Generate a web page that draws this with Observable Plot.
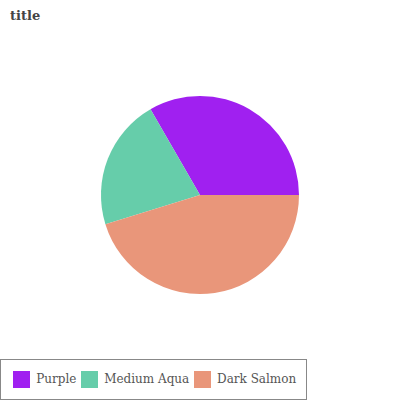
<!DOCTYPE html>
<html>
<head>
<meta charset="utf-8">
<script src="https://cdn.jsdelivr.net/npm/d3@7"></script>
<script src="https://cdn.jsdelivr.net/npm/@observablehq/plot@0.6"></script>
<style>
  html, body { margin: 0; padding: 0; background: #fff; width: 400px; height: 400px; overflow: hidden; }
  #wrap { position: relative; width: 400px; height: 400px; }
  #title { position: absolute; left: 10px; top: 6px; font-family: 'DejaVu Serif'; font-weight: bold; font-size: 13px; color: #444; line-height: 20px; }
  #chart { position: absolute; left: 0; top: 30px; }
  #legend { position: absolute; left: 0; top: 359px; width: 305px; height: 39px; border: 1px solid #888;
            font-family: 'DejaVu Serif'; font-size: 12px; color: #555; }
  .sw { position: absolute; top: 11px; width: 17px; height: 17px; }
  .lt { position: absolute; top: 11px; line-height: 17px; white-space: nowrap; }
</style>
</head>
<body>
<div id="wrap">
  <div id="title">title</div>
  <div id="chart"></div>
  <div id="legend"></div>
</div>
<script>
const categories = ["Purple", "Medium Aqua", "Dark Salmon"];
const values = [14, 9, 19];
const colors = ["#A020F0", "#66CDAA", "#E9967A"];

const data = categories.map((name, i) => ({name, value: values[i]}));

const pie = d3.pie().sort(null).value(d => d.value)
  .startAngle(Math.PI / 2).endAngle(Math.PI / 2 - 2 * Math.PI);

function pieMark(index, scales, vals, dims) {
  const cx = 200, cy = 165, r = 99;
  const arcs = pie(data);
  const arc = d3.arc().innerRadius(0).outerRadius(r);
  const g = d3.create("svg:g").attr("transform", `translate(${cx},${cy})`);
  g.selectAll("path").data(arcs).join("path")
    .attr("d", arc)
    .attr("fill", (d, i) => (vals && vals.fill) ? vals.fill[i] : scales.color(d.data.name));
  return g.node();
}

const plot = Plot.plot({
  width: 400,
  height: 325,
  margin: 0,
  x: {axis: null},
  y: {axis: null},
  color: {domain: categories, range: colors},
  marks: [
    Plot.dot(data, {x: () => 0, y: () => 0, fill: "name", render: pieMark})
  ]
});
document.getElementById("chart").appendChild(plot);

// legend: swatch then label, laid out left to right
const legend = document.getElementById("legend");
let x = 12;
categories.forEach((c, i) => {
  const sw = document.createElement("div");
  sw.className = "sw";
  sw.style.left = x + "px";
  sw.style.background = plot.scale("color").apply(c);
  legend.appendChild(sw);
  x += 23.2;
  const t = document.createElement("div");
  t.className = "lt";
  t.style.left = x + "px";
  t.textContent = c;
  legend.appendChild(t);
  x += t.getBoundingClientRect().width + 4.6;
});
</script>
</body>
</html>
